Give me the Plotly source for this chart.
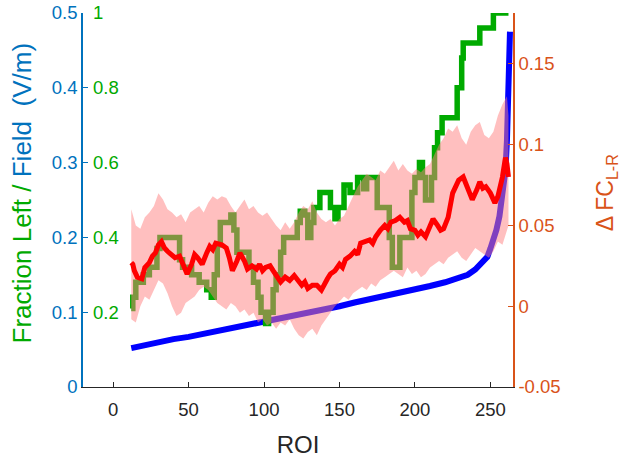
import plotly.graph_objects as go

# ROI-sorted field strength (left axis, V/m)
field_roi = [12, 20, 30, 40, 50, 60, 70, 80, 90, 100, 110, 120, 130, 140, 150, 160, 170, 180,
             190, 200, 210, 220, 230, 235, 240, 245, 248, 250, 252, 254, 256, 258, 260, 261, 262, 263]
field_val = [0.052, 0.056, 0.060, 0.064, 0.067, 0.071, 0.074, 0.078, 0.082, 0.086, 0.090, 0.094,
             0.099, 0.104, 0.108, 0.113, 0.117, 0.122, 0.126, 0.130, 0.135, 0.140, 0.146, 0.150,
             0.157, 0.166, 0.174, 0.185, 0.196, 0.210, 0.228, 0.255, 0.290, 0.330, 0.400, 0.475]

# fraction left (green axis), step changes
frac_roi = [12, 13, 15, 20, 24, 29, 31, 42, 44, 46, 52, 57, 62, 65, 67, 69, 71, 78, 80, 82, 90, 93,
            96, 98, 101, 103, 106, 108, 111, 113, 122, 124, 127, 129, 131, 133, 137, 141, 144, 147,
            149, 153, 157, 162, 165, 166, 168, 173, 175, 180, 183, 185, 188, 190, 195, 198, 200,
            203, 205, 207, 209, 211, 213, 215, 218, 225, 228, 231, 232, 242, 243, 251, 252, 262]
frac_val = [0.21, 0.24, 0.28, 0.30, 0.32, 0.37, 0.40, 0.40, 0.34, 0.32, 0.30, 0.28, 0.26, 0.24, 0.30,
            0.38, 0.44, 0.46, 0.42, 0.36, 0.32, 0.28, 0.24, 0.20, 0.17, 0.20, 0.26, 0.30, 0.36, 0.40,
            0.44, 0.47, 0.46, 0.40, 0.44, 0.48, 0.52, 0.52, 0.48, 0.45, 0.48, 0.54, 0.52, 0.56, 0.56,
            0.53, 0.56, 0.56, 0.48, 0.48, 0.40, 0.32, 0.32, 0.40, 0.40, 0.52, 0.56, 0.60, 0.56, 0.50,
            0.50, 0.56, 0.64, 0.68, 0.72, 0.72, 0.80, 0.88, 0.92, 0.92, 0.96, 0.96, 1.00, 1.00]

# delta FC (right axis), mean
dfc_roi = [12, 13, 14, 16, 19, 21, 24, 26, 28, 30, 32, 34, 36, 39, 41, 44, 47, 49, 52, 54, 56, 59,
           62, 64, 66, 68, 72, 75, 77, 79, 82, 84, 87, 89, 92, 95, 97, 99, 101, 104, 106, 109, 111,
           114, 117, 120, 122, 125, 127, 129, 132, 135, 138, 140, 142, 144, 147, 150, 152, 154,
           157, 160, 162, 164, 167, 170, 172, 174, 177, 180, 182, 184, 187, 190, 193, 195, 197,
           200, 202, 204, 207, 210, 212, 215, 217, 219, 222, 225, 227, 229, 232, 235, 238, 241,
           243, 245, 247, 250, 253, 255, 258, 260, 261, 262]
dfc_val = [0.027, 0.026, 0.022, 0.018, 0.017, 0.024, 0.027, 0.031, 0.033, 0.038, 0.040, 0.036,
           0.034, 0.032, 0.030, 0.031, 0.025, 0.020, 0.026, 0.032, 0.030, 0.026, 0.033, 0.037,
           0.035, 0.039, 0.038, 0.036, 0.030, 0.022, 0.028, 0.033, 0.028, 0.023, 0.025, 0.023,
           0.026, 0.022, 0.024, 0.025, 0.022, 0.018, 0.015, 0.018, 0.016, 0.019, 0.017, 0.013,
           0.015, 0.011, 0.013, 0.013, 0.010, 0.014, 0.017, 0.020, 0.022, 0.026, 0.024, 0.029,
           0.031, 0.034, 0.032, 0.039, 0.040, 0.041, 0.039, 0.043, 0.047, 0.050, 0.048, 0.052,
           0.053, 0.055, 0.052, 0.053, 0.048, 0.047, 0.044, 0.046, 0.043, 0.049, 0.054, 0.050,
           0.047, 0.048, 0.055, 0.070, 0.074, 0.078, 0.080, 0.072, 0.066, 0.072, 0.077, 0.073,
           0.074, 0.070, 0.064, 0.068, 0.080, 0.092, 0.088, 0.080]

# shaded band around delta FC
band_roi = [12, 15, 18, 21, 24, 27, 30, 33, 36, 39, 42, 45, 48, 51, 54, 57, 60, 63, 66, 69, 72, 75,
            78, 81, 84, 87, 90, 93, 96, 99, 102, 105, 108, 111, 114, 117, 120, 123, 126, 129, 132,
            135, 138, 141, 144, 147, 150, 153, 156, 159, 162, 165, 168, 171, 174, 177, 180, 183,
            186, 189, 192, 195, 198, 201, 204, 207, 210, 213, 216, 219, 222, 225, 228, 231, 234,
            237, 240, 243, 246, 249, 252, 255, 258, 261, 262]
band_hi = [0.060, 0.050, 0.048, 0.055, 0.058, 0.062, 0.070, 0.066, 0.060, 0.058, 0.055, 0.057,
           0.052, 0.058, 0.060, 0.062, 0.058, 0.064, 0.068, 0.066, 0.068, 0.067, 0.062, 0.058,
           0.062, 0.066, 0.060, 0.062, 0.058, 0.056, 0.058, 0.054, 0.050, 0.047, 0.052, 0.048,
           0.052, 0.058, 0.062, 0.060, 0.065, 0.058, 0.054, 0.052, 0.054, 0.050, 0.054, 0.056,
           0.062, 0.068, 0.074, 0.078, 0.082, 0.080, 0.078, 0.084, 0.082, 0.086, 0.090, 0.084,
           0.088, 0.084, 0.082, 0.085, 0.083, 0.086, 0.088, 0.094, 0.100, 0.104, 0.110, 0.108,
           0.112, 0.104, 0.100, 0.108, 0.112, 0.114, 0.106, 0.104, 0.108, 0.118, 0.125, 0.130,
           0.118]
band_lo = [-0.008, -0.010, 0.000, 0.006, 0.004, 0.010, 0.016, 0.014, 0.008, 0.000, -0.006, -0.004,
           0.002, 0.004, 0.006, 0.010, 0.012, 0.010, 0.006, 0.002, 0.000, -0.002, 0.002, 0.000,
           -0.004, -0.002, -0.006, -0.004, -0.010, -0.008, -0.012, -0.010, -0.014, -0.010, -0.012,
           -0.008, -0.014, -0.018, -0.020, -0.016, -0.014, -0.018, -0.012, -0.008, -0.004, 0.000,
           0.003, 0.006, 0.004, 0.008, 0.010, 0.012, 0.010, 0.014, 0.012, 0.016, 0.018, 0.020,
           0.022, 0.020, 0.018, 0.024, 0.020, 0.022, 0.018, 0.020, 0.024, 0.026, 0.028, 0.026,
           0.030, 0.032, 0.034, 0.030, 0.028, 0.032, 0.036, 0.034, 0.032, 0.030, 0.034, 0.040,
           0.038, 0.046, 0.050]

BLUE_AX = "#0072BD"
ORANGE = "#D95319"
GREEN = "#00AA00"
FONT = "Liberation Sans, Arial, sans-serif"

fig = go.Figure()
fig.add_trace(go.Scatter(x=field_roi, y=field_val, mode="lines", yaxis="y",
                         line=dict(color="#0000FF", width=6), showlegend=False))
fig.add_trace(go.Scatter(x=frac_roi, y=frac_val, mode="lines", yaxis="y2",
                         line=dict(color=GREEN, width=5.5, shape="hv"), showlegend=False))
fig.add_trace(go.Scatter(x=band_roi, y=band_lo, mode="lines", yaxis="y3",
                         line=dict(width=0), showlegend=False))
fig.add_trace(go.Scatter(x=band_roi, y=band_hi, mode="lines", yaxis="y3", fill="tonexty",
                         fillcolor="rgba(255,128,128,0.5)", line=dict(width=0), showlegend=False))
fig.add_trace(go.Scatter(x=dfc_roi, y=dfc_val, mode="lines", yaxis="y3",
                         line=dict(color="#FF0000", width=5), showlegend=False))

fig.update_layout(
    width=634, height=460,
    margin=dict(l=83, r=121, t=13, b=73),
    plot_bgcolor="white", paper_bgcolor="white",
    font=dict(family=FONT, size=18.5, color="#262626"),
    xaxis=dict(range=[-20, 265], tickvals=[0, 50, 100, 150, 200, 250], showgrid=False,
               zeroline=False, showline=True, linecolor="#262626", linewidth=1,
               ticks="inside", ticklen=5, tickcolor="#262626", ticklabelstandoff=6,
               automargin=False,
               title=dict(text="ROI", font=dict(size=24), standoff=16)),
    yaxis=dict(range=[0, 0.5], tickvals=[0, 0.1, 0.2, 0.3, 0.4, 0.5], showgrid=False,
               zeroline=False, showline=True, linecolor=BLUE_AX, linewidth=1.5,
               ticks="inside", ticklen=5, tickcolor=BLUE_AX, tickfont=dict(color=BLUE_AX),
               ticklabeloverflow="allow", automargin=False),
    yaxis2=dict(range=[0, 1], tickvals=[0.2, 0.4, 0.6, 0.8, 1], ticktext=["0.2", "0.4", "0.6", "0.8", "1"],
                overlaying="y", side="left", anchor="x", showgrid=False, zeroline=False,
                showline=False, ticks="", ticklabelposition="inside", ticklabelstandoff=7,
                tickfont=dict(color=GREEN), ticklabeloverflow="allow", automargin=False),
    yaxis3=dict(range=[-0.05, 0.1815], tickvals=[-0.05, 0, 0.05, 0.1, 0.15],
                ticktext=["-0.05", "0", "0.05", "0.1", "0.15"],
                overlaying="y", side="right", anchor="x", showgrid=False, zeroline=False,
                showline=True, linecolor=ORANGE, linewidth=1.5, ticks="inside", ticklen=5,
                tickcolor=ORANGE, tickfont=dict(color=ORANGE), ticklabeloverflow="allow",
                automargin=False),
    annotations=[
        dict(text="<span style='color:#00AA00'>Fraction Left / </span>"
                  "<span style='color:#0072BD'>Field  (V/m)</span>",
             xref="paper", yref="paper", x=-0.142, y=0.52, textangle=-90,
             showarrow=False, font=dict(size=26), xanchor="center", yanchor="middle"),
        dict(text="Δ FC<sub>L-R</sub>", xref="paper", yref="paper", x=1.218, y=0.52,
             textangle=-90, showarrow=False, font=dict(size=23, color=ORANGE),
             xanchor="center", yanchor="middle"),
    ],
)

fig.write_html("out.html", config={"displayModeBar": False},
               post_script="document.body.style.margin='0';")
